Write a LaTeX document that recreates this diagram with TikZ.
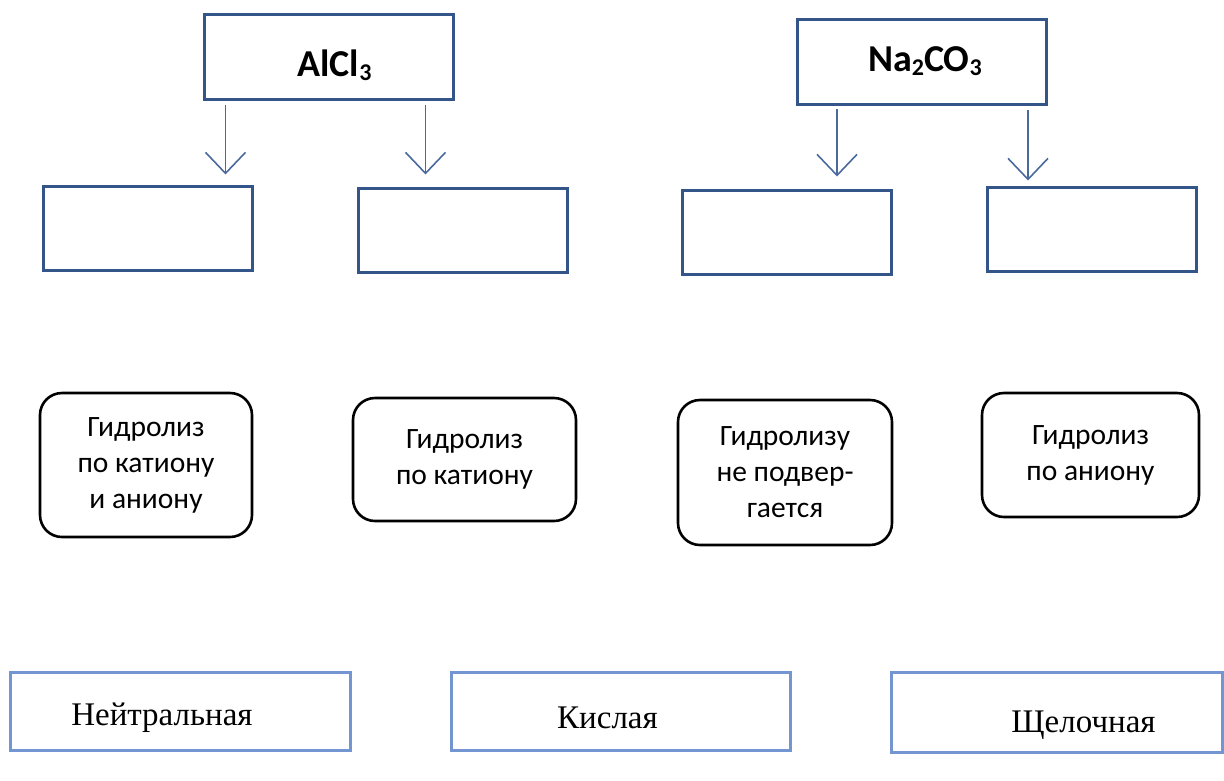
\documentclass[tikz,border=0pt]{standalone}
\usepackage{fontspec}
\setmainfont{Carlito}
\newfontfamily\serifru{Liberation Serif}
\usetikzlibrary{arrows.meta,calc}
\definecolor{topblue}{HTML}{34558A}
\definecolor{arrblue}{HTML}{4A6A9E}
\definecolor{lightblue}{HTML}{7396D2}
\newcommand{\subd}[1]{\raisebox{-4pt}{\fontsize{24}{28}\selectfont #1}}
\tikzset{
  topbox/.style={draw=topblue, line width=3pt, minimum width=249pt, minimum height=85pt, inner sep=0pt},
  toptext/.style={font=\fontsize{38}{44}\selectfont\bfseries, inner sep=0pt},
  emptybox/.style={draw=topblue, line width=3pt, minimum width=209pt, minimum height=84pt, inner sep=0pt},
  roundbox/.style={draw=black, line width=2.6pt, rounded corners=22pt, inner sep=0pt, align=center, font=\fontsize{29.5}{36}\selectfont},
  bottombox/.style={draw=lightblue, line width=3pt, minimum height=78pt, inner sep=0pt},
  btext/.style={font=\serifru\fontsize{33}{38}\selectfont},
  arr/.style={draw=arrblue, line width=1.6pt, -{Straight Barb[length=21pt,width=40pt,line width=1.6pt]}}
}
\begin{document}
\begin{tikzpicture}[x=1pt,y=-1pt]
\useasboundingbox (0,0) rectangle (1224,780);
% top boxes
\node[topbox, label={[toptext,xshift=6pt,yshift=-9pt]center:AlCl\subd{3}}] (al) at (328.5,56.5) {};
\node[topbox, label={[toptext,xshift=3pt,yshift=1pt]center:Na\subd{2}CO\subd{3}}] (na) at (922,62) {};
% empty boxes
\node[emptybox] (e1) at (147.5,228) {};
\node[emptybox] (e2) at (462.5,230) {};
\node[emptybox] (e3) at (786.5,232) {};
\node[emptybox] (e4) at (1092,229) {};
% arrow starts
\coordinate (a1) at ([xshift=23pt,yshift=-4pt]al.south west);
\coordinate (a2) at ([xshift=223pt,yshift=-4pt]al.south west);
\coordinate (a3) at ([xshift=41pt,yshift=-3pt]na.south west);
\coordinate (a4) at ([xshift=232pt,yshift=-4pt]na.south west);
\draw[arr, shorten >=10pt] (a1) -- (a1 |- e1.north);
\draw[arr, shorten >=12pt] (a2) -- (a2 |- e2.north);
\draw[arr, shorten >=12pt] (a3) -- (a3 |- e3.north);
\draw[arr, shorten >=5pt] (a4) -- (a4 |- e4.north);
% rounded boxes
\node[roundbox, minimum width=212pt, minimum height=144pt] (r1) at (146,465) {Гидролиз\\по катиону\\и аниону};
\node[roundbox, minimum width=223pt, minimum height=123pt] (r2) at (464.5,459.5) {Гидролиз\\по катиону};
\node[roundbox, minimum width=214pt, minimum height=145pt] (r3) at (785,472.5) {Гидролизу\\не подвер-\\гается};
\node[roundbox, minimum width=217pt, minimum height=124pt] (r4) at (1090.5,455) {Гидролиз\\по аниону};
% bottom boxes
\node[bottombox, minimum width=340pt, label={[btext,xshift=-18pt,yshift=-7pt]center:Нейтральная}] (b1) at (180,711) {};
\node[bottombox, minimum width=339pt, label={[btext,xshift=-13pt,yshift=-7pt]center:Кислая}] (b2) at (620.5,711) {};
\node[bottombox, minimum width=331pt, minimum height=80pt, label={[btext,xshift=27pt,yshift=-13pt]center:Щелочная}] (b3) at (1056.5,712) {};
\end{tikzpicture}
\end{document}
